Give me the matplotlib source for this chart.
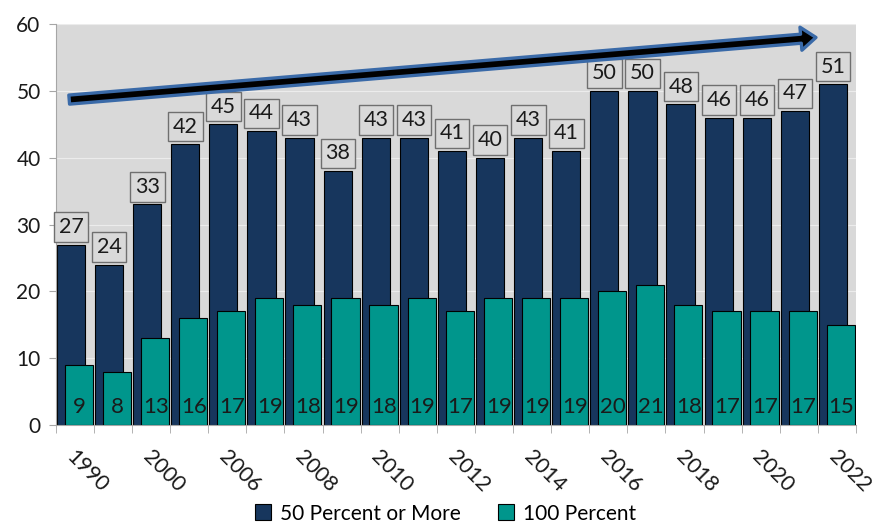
import matplotlib
matplotlib.use("Agg")
import matplotlib.pyplot as plt
from matplotlib.patches import Patch, FancyArrowPatch
import numpy as np

tick_labels = ['1990', '2000', '2006', '2008', '2010', '2012', '2014',
               '2016', '2018', '2020', '2022']
fifty_plus = [27, 24, 33, 42, 45, 44, 43, 38, 43, 43, 41, 40, 43, 41, 50, 50, 48, 46, 46, 47, 51]
hundred = [9, 8, 13, 16, 17, 19, 18, 19, 18, 19, 17, 19, 19, 19, 20, 21, 18, 17, 17, 17, 15]

NAVY = '#17365d'
TEAL = '#00968c'
BG = '#d9d9d9'
FONT = ['Lato', 'DejaVu Sans']
plt.rcParams['font.family'] = FONT

fig = plt.figure(figsize=(8.73, 5.24), dpi=100)
ax = fig.add_axes([0.064, 0.189, 0.9165, 0.765])
ax.set_facecolor(BG)

n = len(fifty_plus)
x = np.arange(n)
w = 0.74
ax.bar(x - 0.105, fifty_plus, w, color=NAVY, edgecolor='black', linewidth=0.8, zorder=2)
ax.bar(x + 0.10, hundred, w, color=TEAL, edgecolor='black', linewidth=0.8, zorder=3)

for xi, v in zip(x, fifty_plus):
    ax.annotate(str(v), (xi - 0.1, v), xytext=(0, 5.5), textcoords='offset points',
                ha='center', va='bottom', fontsize=15.5, color='#1a1a1a', zorder=5,
                bbox=dict(boxstyle='square,pad=0.22', fc=BG, ec='#6f6f6f', lw=1.0))
for xi, v in zip(x, hundred):
    ax.annotate(str(v), (xi + 0.12, 0), xytext=(0, 6), textcoords='offset points',
                ha='center', va='bottom', fontsize=16, color='#1a1a1a', zorder=5)

ax.set_xlim(-0.5, n - 0.5)
ax.set_ylim(0, 60)
ax.set_yticks(range(0, 61, 10))
ax.yaxis.grid(True, color='#ececec', linewidth=0.8, zorder=0)
ax.set_axisbelow(True)
ax.tick_params(axis='y', labelsize=15, length=5, color='#a6a6a6', pad=6, labelcolor='#1a1a1a')

ax.set_xticks(np.arange(0, n, 2) + 0.05)
ax.set_xticklabels(tick_labels)
ax.set_xticks(np.arange(-0.5, n, 1), minor=True)
ax.tick_params(axis='x', which='major', length=0, pad=16, labelsize=15.5, labelcolor='#1a1a1a')
ax.tick_params(axis='x', which='minor', length=6, color='#a6a6a6')
for lab in ax.get_xticklabels():
    lab.set_rotation(-45)
    lab.set_ha('left')
    lab.set_va('top')
    lab.set_rotation_mode('anchor')

for s in ['top', 'right']:
    ax.spines[s].set_visible(False)
for s in ['left', 'bottom']:
    ax.spines[s].set_color('#a6a6a6')

# trend arrow
arrow = FancyArrowPatch((-0.15, 48.7), (19.45, 58.0),
                        arrowstyle='simple,head_length=0.75,head_width=1.15,tail_width=0.45',
                        mutation_scale=14.5, facecolor='black', edgecolor='#3a6aa8',
                        lw=2.4, shrinkA=0, shrinkB=0, zorder=7)
ax.add_patch(arrow)

handles = [Patch(facecolor=NAVY, edgecolor='black', lw=0.8),
           Patch(facecolor=TEAL, edgecolor='black', lw=0.8)]
fig.legend(handles, ['50 Percent or More', '100 Percent'], loc='lower center',
           bbox_to_anchor=(0.51, -0.035), ncol=2, frameon=False, fontsize=15,
           handlelength=0.8, handleheight=0.8, handletextpad=0.4, columnspacing=1.8)

fig.savefig('out.png', dpi=100)
